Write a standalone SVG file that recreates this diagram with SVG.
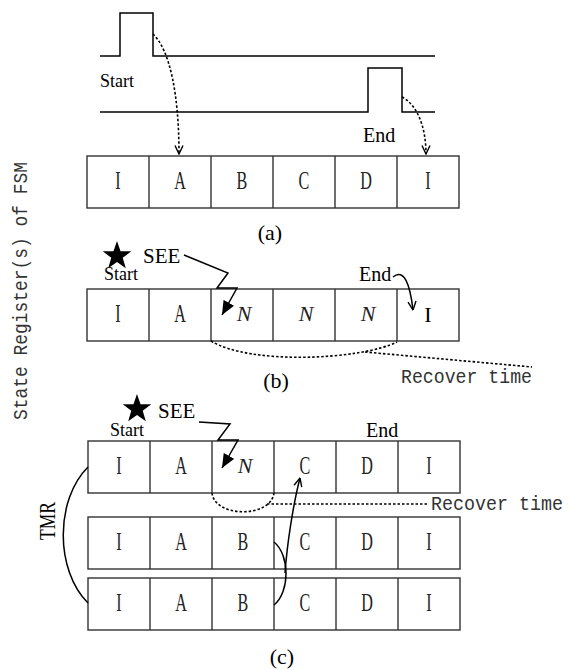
<svg xmlns="http://www.w3.org/2000/svg" width="574" height="670" viewBox="0 0 574 670">
<style>
.m{font-family:"Liberation Serif","Times New Roman",serif;font-size:26px;text-anchor:middle;fill:#222}
.mono{font-family:"Liberation Mono","Courier New",monospace;fill:#333}
.t{font-family:"Liberation Serif","Times New Roman",serif;fill:#000}
.n{font-family:"Liberation Serif",serif;font-style:italic;font-size:22px;text-anchor:middle;fill:#222}
.cell{fill:#fff;stroke:#333;stroke-width:1.4}
.ln{fill:none;stroke:#000;stroke-width:1.5}
.dot{fill:none;stroke:#000;stroke-width:1.6;stroke-dasharray:2.5,2}
</style>
<defs>
<marker id="open" viewBox="0 0 10 10" refX="9.5" refY="5" markerWidth="10" markerHeight="10" markerUnits="userSpaceOnUse" orient="auto">
<path d="M1,1 L9.5,5 L1,9" fill="none" stroke="#000" stroke-width="1.4"/>
</marker>
<marker id="fill" viewBox="0 0 14 12" refX="14" refY="6" markerWidth="14" markerHeight="12" markerUnits="userSpaceOnUse" orient="auto">
<path d="M0,0 L14,6 L0,12 Z" fill="#000"/>
</marker>
<polygon id="star" points="0,-15 3.53,-4.85 14.27,-4.64 5.71,1.85 8.82,12.14 0,6 -8.82,12.14 -5.71,1.85 -14.27,-4.64 -3.53,-4.85" fill="#000"/>
</defs>
<rect width="574" height="670" fill="#fff"/>

<text class="mono" transform="translate(27,291) rotate(-90)" style="font-size:20px;text-anchor:middle" textLength="258" lengthAdjust="spacingAndGlyphs">State Register(s) of FSM</text>

<!-- (a) waveforms -->
<g id="waveforms">
<path class="ln" d="M100,56 H120 V13 H153 V56 H435"/>
<path class="ln" d="M100,112 H368 V68 H402 V112 H435"/>
<text class="t" x="100" y="87" font-size="18">Start</text>
<text class="t" x="363" y="142" font-size="20">End</text>
</g>

<!-- row a -->
<g id="row-a">
<rect class="cell" x="87" y="156" width="372" height="52"/>
<path class="cell" d="M149,156V208M211,156V208M273,156V208M335,156V208M397,156V208"/>
<text class="m" transform="translate(118,189) scale(.62,1)">I</text>
<text class="m" transform="translate(180,189) scale(.62,1)">A</text>
<text class="m" transform="translate(242,189) scale(.62,1)">B</text>
<text class="m" transform="translate(304,189) scale(.62,1)">C</text>
<text class="m" transform="translate(366,189) scale(.62,1)">D</text>
<text class="m" transform="translate(428,189) scale(.62,1)">I</text>
</g>
<text class="t" x="270" y="240" font-size="22" text-anchor="middle">(a)</text>

<!-- row b -->
<g id="row-b">
<rect class="cell" x="87" y="289" width="372" height="52"/>
<path class="cell" d="M149,289V341M211,289V341M273,289V341M335,289V341M397,289V341"/>
<text class="m" transform="translate(118,322) scale(.62,1)">I</text>
<text class="m" transform="translate(180,322) scale(.62,1)">A</text>
<text class="n" x="244" y="321">N</text>
<text class="n" x="306" y="321">N</text>
<text class="n" x="368" y="321">N</text>
<text class="t" x="428" y="322" font-size="22" text-anchor="middle" fill="#222">I</text>
</g>
<g id="see-b">
<use href="#star" x="117" y="256"/>
<text class="t" x="143" y="263" font-size="21">SEE</text>
<text class="t" x="104" y="280" font-size="18">Start</text>
<text class="t" x="359" y="281" font-size="20">End</text>
</g>
<text class="t" x="276" y="388" font-size="22" text-anchor="middle">(b)</text>
<text class="mono" x="401" y="383" style="font-size:21px" textLength="131" lengthAdjust="spacingAndGlyphs">Recover time</text>

<!-- row c1 -->
<g id="row-c1">
<rect class="cell" x="88" y="441" width="372" height="52"/>
<path class="cell" d="M150,441V493M212,441V493M274,441V493M336,441V493M398,441V493"/>
<text class="m" transform="translate(119,474) scale(.62,1)">I</text>
<text class="m" transform="translate(181,474) scale(.62,1)">A</text>
<text class="n" x="245" y="473">N</text>
<text class="m" transform="translate(305,474) scale(.62,1)">C</text>
<text class="m" transform="translate(367,474) scale(.62,1)">D</text>
<text class="m" transform="translate(429,474) scale(.62,1)">I</text>
</g>
<g id="row-c2">
<rect class="cell" x="88" y="517" width="372" height="52"/>
<path class="cell" d="M150,517V569M212,517V569M274,517V569M336,517V569M398,517V569"/>
<text class="m" transform="translate(119,550) scale(.62,1)">I</text>
<text class="m" transform="translate(181,550) scale(.62,1)">A</text>
<text class="m" transform="translate(243,550) scale(.62,1)">B</text>
<text class="m" transform="translate(305,550) scale(.62,1)">C</text>
<text class="m" transform="translate(367,550) scale(.62,1)">D</text>
<text class="m" transform="translate(429,550) scale(.62,1)">I</text>
</g>
<g id="row-c3">
<rect class="cell" x="88" y="578" width="372" height="52"/>
<path class="cell" d="M150,578V630M212,578V630M274,578V630M336,578V630M398,578V630"/>
<text class="m" transform="translate(119,611) scale(.62,1)">I</text>
<text class="m" transform="translate(181,611) scale(.62,1)">A</text>
<text class="m" transform="translate(243,611) scale(.62,1)">B</text>
<text class="m" transform="translate(305,611) scale(.62,1)">C</text>
<text class="m" transform="translate(367,611) scale(.62,1)">D</text>
<text class="m" transform="translate(429,611) scale(.62,1)">I</text>
</g>
<g id="see-c">
<use href="#star" x="137" y="409"/>
<text class="t" x="158" y="418" font-size="21">SEE</text>
<text class="t" x="110" y="436" font-size="18">Start</text>
<text class="t" x="366" y="437" font-size="20">End</text>
</g>
<text class="t" transform="translate(55,521) rotate(-90)" font-size="24" text-anchor="middle" textLength="38" lengthAdjust="spacingAndGlyphs">TMR</text>
<text class="mono" x="431" y="510" style="font-size:20px" textLength="132" lengthAdjust="spacingAndGlyphs">Recover time</text>
<text class="t" x="282" y="664" font-size="22" text-anchor="middle">(c)</text>

<!-- connectors -->
<g id="connectors">
<path class="dot" d="M153,34 C170,50 179,95 179,154" marker-end="url(#open)"/>
<path class="dot" d="M402,97 C416,104 426,125 426,154" marker-end="url(#open)"/>
<path class="ln" d="M184,255 L228,273 L217,288 L237,288 L222,315" marker-end="url(#fill)"/>
<path class="ln" d="M393,277 C404,268 410,284 413,310" marker-end="url(#open)"/>
<path class="dot" d="M211,341 C250,365 360,360 397,342"/>
<path class="dot" d="M365,352 L532,367"/>
<path class="ln" d="M199,422 L230,424 L218,440 L238,440 L222,468" marker-end="url(#fill)"/>
<path class="dot" d="M212,493 C215,518 271,518 274,493"/>
<path class="dot" d="M267,504 L428,504"/>
<path class="ln" d="M88,467 C55,500 55,570 88,603"/>
<path class="ln" d="M274,542 C290,555 290,592 274,605"/>
<path class="ln" d="M285,573 C287,545 293,505 300,478" marker-end="url(#open)"/>
</g>
</svg>
